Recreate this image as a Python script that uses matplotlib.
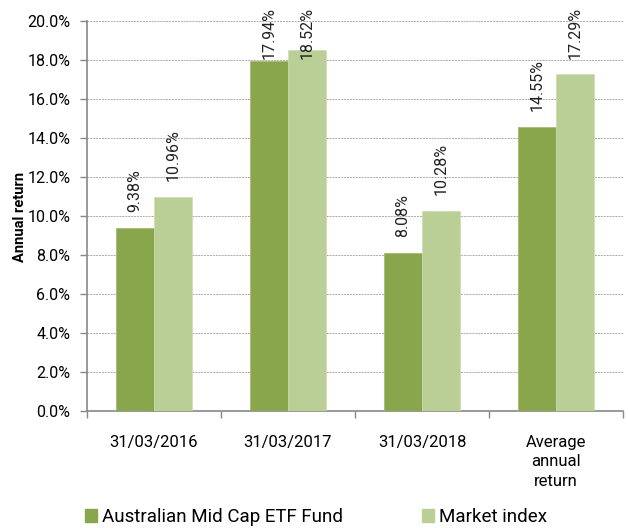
import matplotlib
matplotlib.use("Agg")
import matplotlib.pyplot as plt
import matplotlib.ticker as tkr
from matplotlib.patches import Patch
from matplotlib.transforms import ScaledTranslation
import numpy as np

plt.rcParams['font.family'] = ['Roboto', 'DejaVu Sans']

# data
categories = ["31/03/2016", "31/03/2017", "31/03/2018", "Average\nannual\nreturn"]
fund = [9.38, 17.94, 8.08, 14.55]
index = [10.96, 18.52, 10.28, 17.29]
series_names = ["Australian Mid Cap ETF Fund", "Market index"]

dark = "#8aa64d"
light = "#bacf96"

W, H = 628, 528
fig = plt.figure(figsize=(W/100, H/100), dpi=100)
ax = fig.add_axes([87/W, 1 - 411/H, (623-87)/W, (411-21)/H])

x = np.arange(len(categories))
w = 0.285
b1 = ax.bar(x - w/2, fund, w, color=dark, edgecolor="#9fb86a", linewidth=0.5, zorder=3)
b2 = ax.bar(x + w/2, index, w, color=light, edgecolor="#cddcb3", linewidth=0.5, zorder=3)

ax.set_xlim(-0.5, len(categories) - 0.5)
ax.set_ylim(0, 20)

# value labels, pushed down when they would run off the top (like Excel)
labels = []
for bars in (b1, b2):
    for r in bars:
        t = ax.text(r.get_x() + r.get_width()/2, r.get_height(),
                    "%.2f%%" % r.get_height(), rotation=90, ha="center", va="bottom",
                    fontsize=11.5, color="#222222", zorder=4,
                    transform=ax.transData + ScaledTranslation(0, 16/100, fig.dpi_scale_trans))
        labels.append(t)

fig.canvas.draw()
renderer = fig.canvas.get_renderer()
top_limit = H - 7
for t in labels:
    bb = t.get_window_extent(renderer)
    if bb.y1 > top_limit:
        shift = (bb.y1 - top_limit) / 100
        t.set_transform(t.get_transform() + ScaledTranslation(0, -shift, fig.dpi_scale_trans))

ax.set_yticks(np.arange(0, 20.1, 2))
ax.yaxis.set_major_formatter(tkr.FuncFormatter(lambda v, p: "%.1f%%" % v))
ax.yaxis.grid(True, linestyle=(0, (2, 1)), color="#aaaaaa", linewidth=0.7, zorder=0)

ax.set_xticks(x)
ax.set_xticklabels(categories, fontsize=12, linespacing=1.4, va="top")
ax.tick_params(axis="x", length=0, pad=17)
ax.set_xticks(np.arange(-0.5, len(categories)), minor=True)
ax.tick_params(axis="x", which="minor", length=5, color="#888888", width=1)
ax.tick_params(axis="y", labelsize=11.5, length=5, color="#888888", width=1, pad=7)

for s in ("top", "right"):
    ax.spines[s].set_visible(False)
for s in ("left", "bottom"):
    ax.spines[s].set_color("#888888")
    ax.spines[s].set_linewidth(1.2)

fig.text(20/W, 1 - 217/H, "Annual return", rotation=90, ha="center", va="center",
         fontsize=10.5, fontweight="bold")

handles = [Patch(color=dark), Patch(color=light)]
fig.legend(handles, series_names, loc="center", bbox_to_anchor=(316/W, 1 - 517/H),
           ncol=2, frameon=False, fontsize=13.5, handlelength=0.64, handleheight=0.64,
           handletextpad=0.25, columnspacing=4.2, borderpad=0)

fig.savefig("out.png", dpi=100)
